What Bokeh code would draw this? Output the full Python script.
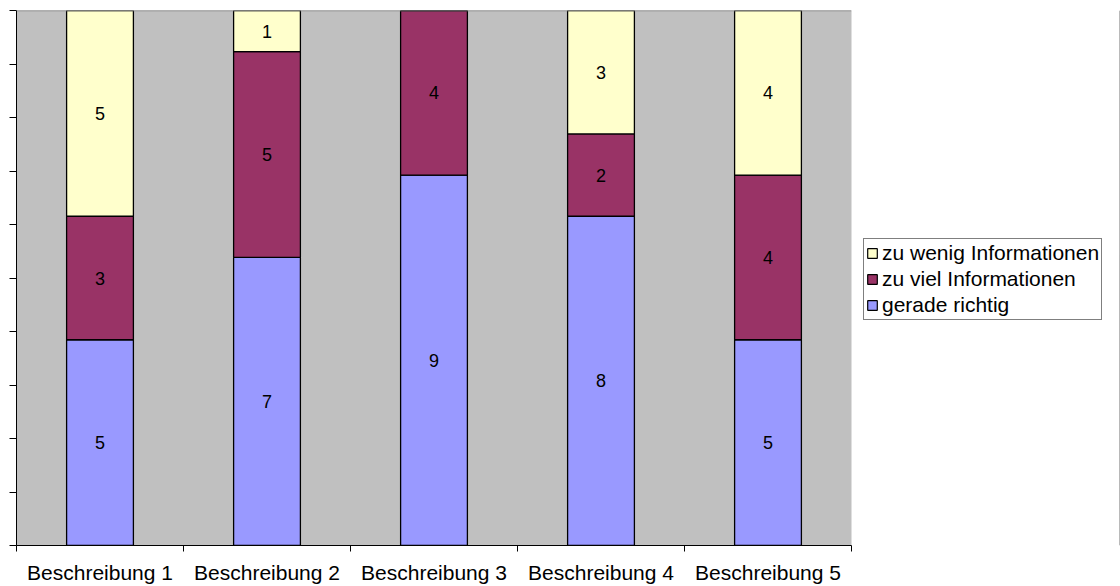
from bokeh.plotting import figure
from bokeh.models import (ColumnDataSource, FixedTicker, Range1d, Legend, LegendItem,
                          CustomJSTickFormatter, Span)
from bokeh.layouts import row
from bokeh.core.properties import value
from bokeh.embed import file_html
from bokeh.resources import INLINE

categories = ["Beschreibung 1", "Beschreibung 2", "Beschreibung 3", "Beschreibung 4", "Beschreibung 5"]
gerade_richtig = [5, 7, 9, 8, 5]
zu_viel = [3, 5, 4, 2, 4]
zu_wenig = [5, 1, 0, 3, 4]
series_names = ["gerade richtig", "zu viel Informationen", "zu wenig Informationen"]
colors = ["#9999FF", "#993366", "#FFFFCC"]

FONT = "Liberation Sans"
n = len(categories)
xs = [i + 0.5 for i in range(n)]
total = max(a + b + c for a, b, c in zip(gerade_richtig, zu_viel, zu_wenig))

src = ColumnDataSource(dict(x=xs, g=gerade_richtig, v=zu_viel, w=zu_wenig))

p = figure(width=853, height=586, output_backend="svg", toolbar_location=None,
           x_range=Range1d(0, n), y_range=Range1d(0, total),
           min_border_left=16, min_border_top=10, min_border_bottom=40, min_border_right=2)
p.background_fill_color = "#C0C0C0"
p.border_fill_color = "white"
p.outline_line_color = None
p.xgrid.grid_line_color = None
p.ygrid.grid_line_color = None

renderers = p.vbar_stack(["g", "v", "w"], x="x", width=0.4, source=src,
                         fill_color=colors, line_color="black", line_width=1.3)

p.add_layout(Span(location=total, dimension="width", line_color="#808080", line_width=1.5))

# segment labels
lx, ly, lt = [], [], []
for i in range(n):
    base = 0
    for vals in (gerade_richtig, zu_viel, zu_wenig):
        v = vals[i]
        if v > 0:
            lx.append(xs[i]); ly.append(base + v / 2); lt.append(str(v))
        base += v
p.text(x=lx, y=ly, text=lt, text_align="center", text_baseline="middle",
       text_font=value(FONT), text_font_size="18px", text_color="black")

# x axis
p.xaxis.ticker = FixedTicker(ticks=xs, minor_ticks=list(range(n + 1)))
p.xaxis.major_label_overrides = {x: c for x, c in zip(xs, categories)}
p.xaxis.major_tick_out = 0
p.xaxis.major_tick_in = 0
p.xaxis.minor_tick_out = 6
p.xaxis.minor_tick_in = 0
p.xaxis.minor_tick_line_color = "black"
p.xaxis.axis_line_color = "black"
p.xaxis.major_label_text_font = FONT
p.xaxis.major_label_text_font_size = "21px"
p.xaxis.major_label_text_color = "black"
p.xaxis.major_label_standoff = 9

# y axis
p.yaxis.ticker = FixedTicker(ticks=[total * i / 10 for i in range(11)])
p.yaxis.formatter = CustomJSTickFormatter(code="return '';")
p.yaxis.major_tick_out = 7
p.yaxis.major_tick_in = 0
p.yaxis.minor_tick_out = 0
p.yaxis.minor_tick_in = 0
p.yaxis.major_label_standoff = 0
p.yaxis.major_label_text_font_size = "1px"
p.yaxis.axis_line_color = "black"

# legend in a separate panel figure
lg = figure(width=267, height=586, output_backend="svg", toolbar_location=None,
            x_range=Range1d(0, 1), y_range=Range1d(0, 1),
            min_border=0, min_border_left=0, min_border_right=0,
            min_border_top=0, min_border_bottom=0)
lg.axis.visible = False
lg.grid.visible = False
lg.outline_line_color = None
lg.background_fill_color = "white"
dummy_src = ColumnDataSource(dict(x=[5], top=[5]))
dummies = [lg.vbar(x="x", top="top", width=0.1, source=dummy_src, fill_color=c,
                   line_color="black", line_width=1.2) for c in colors]

items = [LegendItem(label=series_names[k], renderers=[dummies[k]]) for k in (2, 1, 0)]
legend = Legend(items=items, location=(10, 225), orientation="vertical")
legend.label_text_font = FONT
legend.label_text_font_size = "21px"
legend.label_text_color = "black"
legend.glyph_width = 12
legend.glyph_height = 12
legend.label_height = 24
legend.label_standoff = 4
legend.spacing = 2
legend.padding = 2
legend.margin = 0
legend.border_line_color = "black"
legend.border_line_width = 1.2
legend.background_fill_color = "white"
lg.add_layout(legend, "center")

layout = row(p, lg)
open("out.html", "w").write(file_html(layout, INLINE))
